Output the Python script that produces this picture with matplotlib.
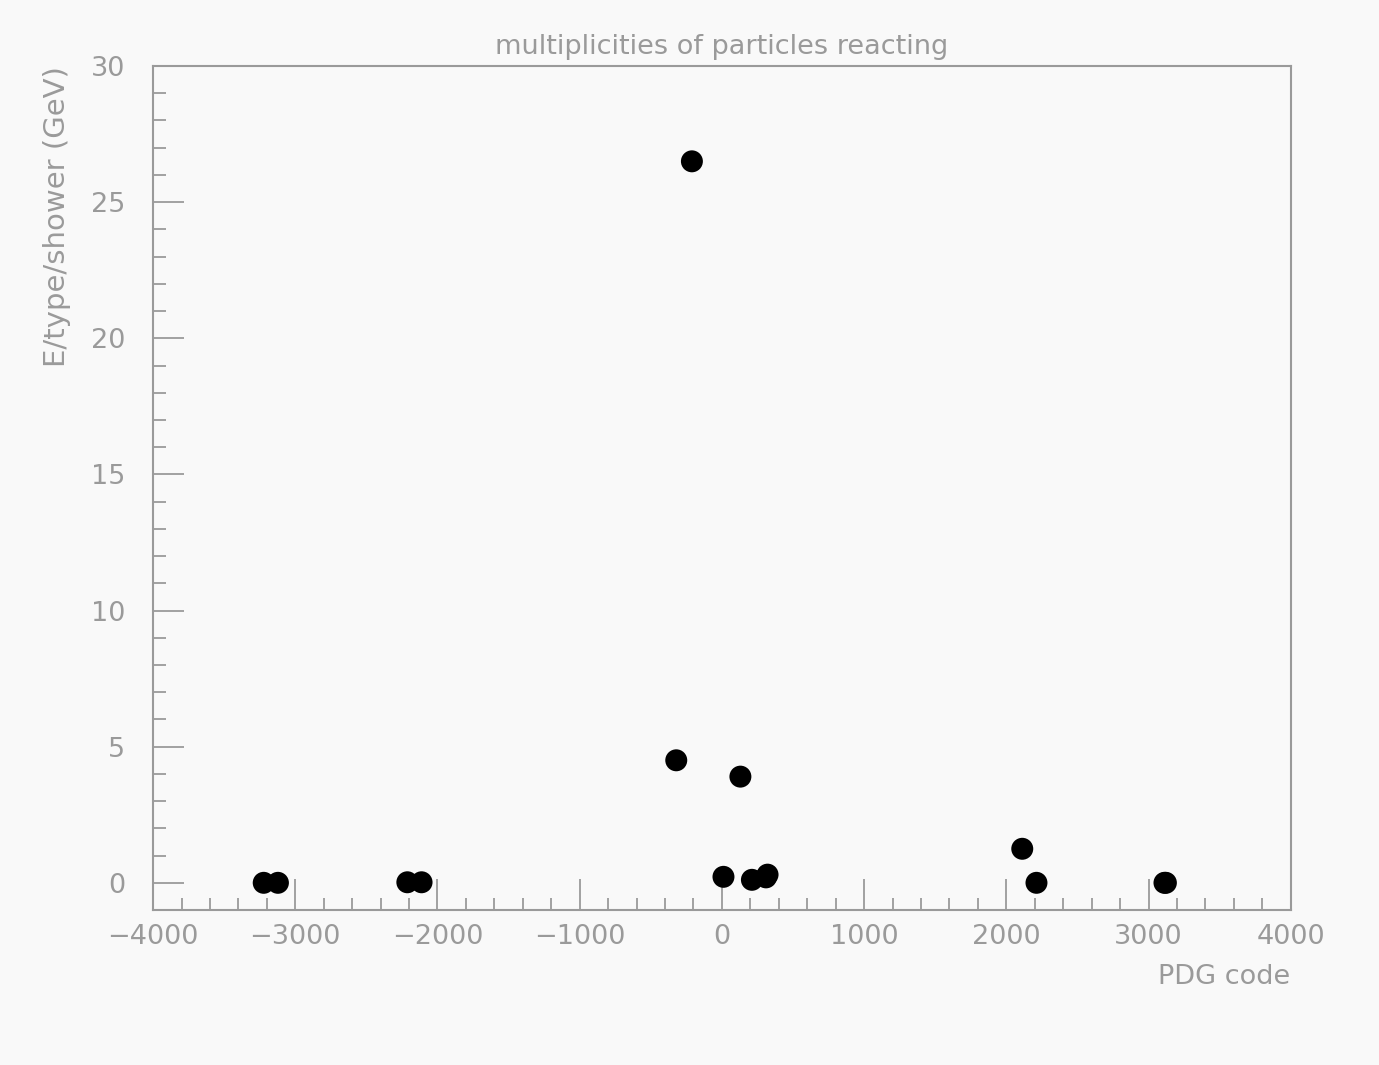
import numpy as np
import matplotlib.pyplot as plt
from matplotlib.ticker import MultipleLocator

# PDG codes of reacting particles and energy per type per shower (GeV)
pdg_code = [-3222, -3122, -2212, -2112, -321, -211, 11, 130, 211, 310, 321,
            2112, 2212, 3112, 3122]
energy = [0.0, 0.0, 0.02, 0.02, 4.5, 26.5, 0.22, 3.9, 0.11, 0.2, 0.3,
          1.25, 0.0, 0.0, 0.0]

GREY = '#9a9a9a'
BG = '#f9f9f9'

plt.rcParams['font.family'] = ['DejaVu Sans']

fig = plt.figure(figsize=(13.79, 10.65), dpi=100, facecolor=BG)
ax = fig.add_axes([0.111, 0.1455, 0.825, 0.7925], facecolor=BG)

ax.scatter(pdg_code, energy, s=250, color='black', edgecolors='none', zorder=5)

ax.set_xlim(-4000, 4000)
ax.set_ylim(-1, 30)
ax.xaxis.set_major_locator(MultipleLocator(1000))
ax.xaxis.set_minor_locator(MultipleLocator(200))
ax.yaxis.set_major_locator(MultipleLocator(5))
ax.yaxis.set_minor_locator(MultipleLocator(1))

ax.tick_params(which='both', direction='in', colors=GREY, top=False, right=False,
               labelsize=19.5, labelcolor=GREY, width=1.3)
ax.tick_params(which='major', length=22)
ax.tick_params(which='minor', length=9)
ax.tick_params(axis='x', which='major', pad=10)
ax.tick_params(axis='y', which='major', pad=20)
for sp in ax.spines.values():
    sp.set_color(GREY)
    sp.set_linewidth(1.5)

ax.set_title('multiplicities of particles reacting', fontsize=19.5, color=GREY, pad=9)
ax.set_xlabel('PDG code', fontsize=19.5, color=GREY, loc='right', labelpad=10)
ax.set_ylabel('E/type/shower (GeV)', fontsize=21, color=GREY, loc='top', labelpad=14)

fig.savefig('out.png', dpi=100, facecolor=BG)
